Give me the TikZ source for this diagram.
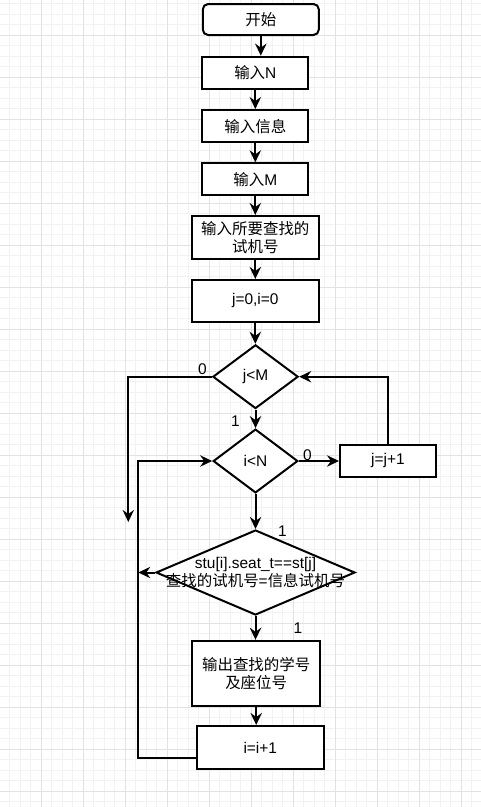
\documentclass[tikz,border=0pt]{standalone}
\usepackage{fontspec}
\setmainfont{Liberation Sans}
\newfontfamily\cjk{Noto Sans CJK SC}
\usetikzlibrary{shapes.geometric,arrows.meta,calc}
\definecolor{gridminor}{HTML}{F2F2F2}
\definecolor{gridmajor}{HTML}{E2E2E2}
\begin{document}
\begin{tikzpicture}[x=0.75pt,y=-0.75pt,
  every node/.style={font=\fontsize{11.6}{13.8}\selectfont, text=black},
  box/.style={draw, line width=1.5pt, rectangle, fill=white, inner sep=0pt, align=center},
  dia/.style={draw, line width=1.5pt, diamond, fill=white, inner sep=0pt},
  flow/.style={line width=1.5pt, -{Stealth[length=9pt,width=8.5pt,inset=3pt]}},
  lbl/.style={inner sep=0pt}]
\useasboundingbox (0,0) rectangle (481,807);
\fill[white] (0,0) rectangle (481,807);
\begin{scope}
\clip (0,0) rectangle (481,807);
\foreach \i in {0,...,46} \draw[gridminor, line width=0.75pt] ({-0.7+10.5*\i},0) -- ({-0.7+10.5*\i},807);
\foreach \i in {0,...,77} \draw[gridminor, line width=0.75pt] (0,{-6.7+10.5*\i}) -- (481,{-6.7+10.5*\i});
\foreach \i in {0,...,11} \draw[gridmajor, line width=0.75pt] ({-0.7+42*\i},0) -- ({-0.7+42*\i},807);
\foreach \i in {0,...,19} \draw[gridmajor, line width=0.75pt] (0,{-6.7+42*\i}) -- (481,{-6.7+42*\i});
\end{scope}

% nodes
\node[box, rounded corners=4pt, minimum width=87pt, minimum height=23.25pt] (start) at (260.8,19.5) {{\cjk 开始}};
\node[box, minimum width=79.5pt, minimum height=24.2pt] (n) at (255.3,72.8) {{\cjk 输入}N};
\node[box, minimum width=79.5pt, minimum height=24.2pt] (info) at (255.3,126.2) {{\cjk 输入信息}};
\node[box, minimum width=79.5pt, minimum height=23.8pt] (m) at (255.3,179.2) {{\cjk 输入}M};
\node[box, minimum width=95.5pt, minimum height=32.25pt] (query) at (255.3,237.5) {{\cjk 输入所要查找的}\\{\cjk 试机号}};
\node[box, minimum width=95.5pt, minimum height=31.25pt] (init) at (255.3,300.8) {j=0,i=0};
\node[dia, minimum width=64pt, minimum height=47.8pt, label=center:{j<M}] (d1) at (255.5,376.7) {};
\node[dia, minimum width=63.5pt, minimum height=47.8pt, label=center:{i<N}] (d2) at (255.5,461) {};
\node[box, minimum width=72pt, minimum height=24.3pt] (jj) at (388,460.8) {j=j+1};
\node[dia, minimum width=149.25pt, minimum height=63.75pt] (d3) at (255.5,572.5) {};
\node[align=center, inner sep=0pt] (d3t) at (d3.center) {stu[i].seat\_t==st[j]\\{\cjk 查找的试机号}={\cjk 信息试机号}};
\node[box, minimum width=95.8pt, minimum height=48.75pt] (out) at (256.2,673.3) {{\cjk 输出查找的学号}\\{\cjk 及座位号}};
\node[box, minimum width=95.5pt, minimum height=32.25pt] (ii) at (260.3,747.5) {i=i+1};

% edge labels
\node[lbl] (l0a) at (202.5,369.5) {0};
\node[lbl] (l1a) at (235.5,421) {1};
\node[lbl] (l0b) at (307.5,455) {0};
\node[lbl] (l1b) at (282.5,531) {1};
\node[lbl] (l1c) at (298,628) {1};

% connectors
\draw[flow] (start.south) -- (start.south |- n.north);
\draw[flow] (n.south) -- (info.north);
\draw[flow] (info.south) -- (m.north);
\draw[flow] (m.south) -- (query.north);
\draw[flow] (query.south) -- (init.north);
\draw[flow] (init.south) -- (init.south |- d1.north);
\draw[flow] (d1.south) -- (d2.north);
\draw[flow] (d2.south) -- (d3.north);
\draw[flow] (d3.south) -- (d3.south |- out.north);
\draw[flow] (out.south) -- (out.south |- ii.north);
\draw[flow] (d2.east) -- (d2.east -| jj.west);
\draw[flow] (jj.north) |- (d1.east);
\coordinate (e1) at (128.3,522);
\draw[flow] (d1.west) -| (e1);
\coordinate (j3) at (138.3,572.5);
\draw[flow] (d3.west) -- (j3);
\coordinate (lp) at (138.3,757.7);
\draw[flow] ($(ii.west)+(0,10.2)$) -- (lp) |- (d2.west);
\end{tikzpicture}
\end{document}
